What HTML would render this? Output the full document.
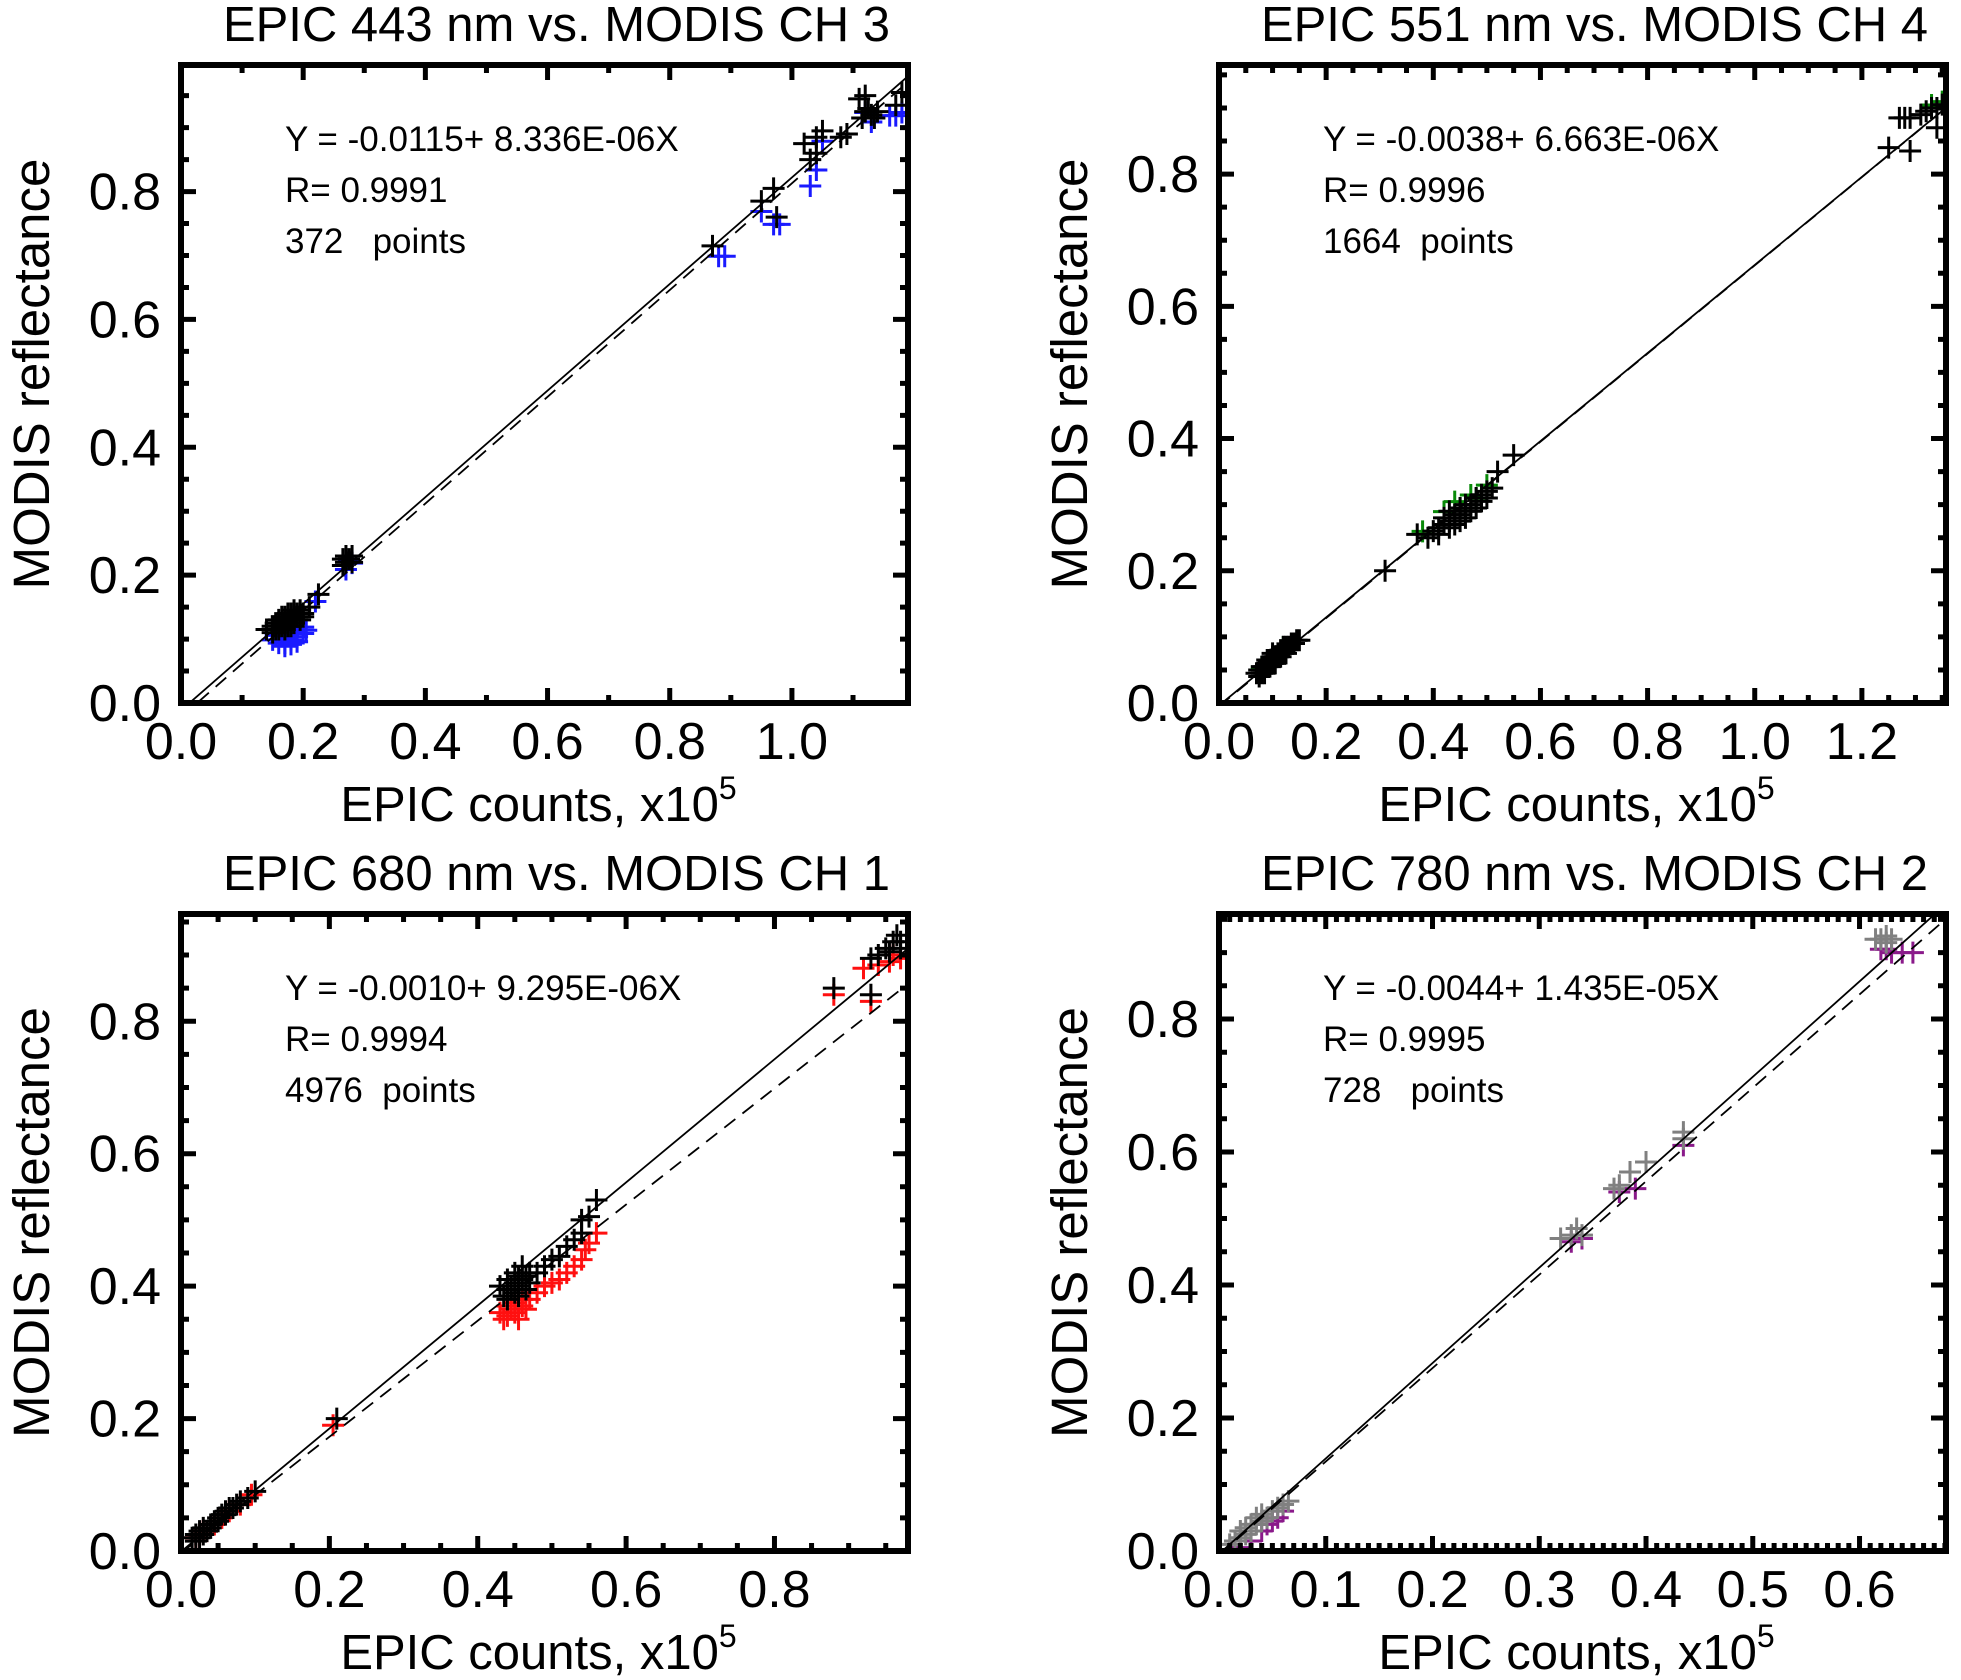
<!DOCTYPE html>
<html><head><meta charset="utf-8">
<style>
html,body{margin:0;padding:0;background:#fff;}
svg{display:block;font-family:"Liberation Sans",Arial,sans-serif;}
text{white-space:pre;}
</style></head>
<body>
<svg id="fig" width="1961" height="1680" viewBox="0 0 1961 1680" xmlns="http://www.w3.org/2000/svg"></svg>
<script>
// ---------- Panel 1 data: EPIC 443 vs MODIS CH3 ----------
const p1Blue = [[0.15,0.105],[0.16,0.10],[0.17,0.10],[0.18,0.105],[0.19,0.11],[0.20,0.115],[0.165,0.11],[0.175,0.112],[0.185,0.118],[0.2,0.125],[0.155,0.112],[0.17,0.095],[0.18,0.098],[0.19,0.102],[0.205,0.12],[0.27,0.215],[0.28,0.225],[0.275,0.23],[0.22,0.165],[0.88,0.705],[0.89,0.705],[0.97,0.755],[0.98,0.755],[1.03,0.815],[1.04,0.84],[1.05,0.885],[1.12,0.93],[1.16,0.925],[1.17,0.925],[1.18,0.93],[1.13,0.915],[0.95,0.775]];
const p1Black = [[0.14,0.115],[0.15,0.12],[0.155,0.125],[0.16,0.115],[0.16,0.13],[0.165,0.12],[0.17,0.125],[0.17,0.135],[0.175,0.12],[0.175,0.13],[0.18,0.13],[0.18,0.14],[0.185,0.125],[0.19,0.135],[0.19,0.14],[0.2,0.14],[0.155,0.115],[0.165,0.135],[0.185,0.145],[0.15,0.11],[0.16,0.12],[0.17,0.115],[0.175,0.14],[0.18,0.12],[0.185,0.135],[0.195,0.13],[0.195,0.145],[0.2,0.135],[0.165,0.125],[0.17,0.13],[0.21,0.15],[0.225,0.17],[0.265,0.215],[0.27,0.22],[0.275,0.225],[0.28,0.22],[0.27,0.23],[0.265,0.225],[0.28,0.23],[0.87,0.715],[0.95,0.785],[0.97,0.805],[0.975,0.76],[1.02,0.875],[1.03,0.85],[1.04,0.86],[1.04,0.885],[1.05,0.895],[1.08,0.885],[1.09,0.89],[1.11,0.945],[1.12,0.95],[1.12,0.925],[1.13,0.92],[1.115,0.915],[1.14,0.925],[1.125,0.93],[1.135,0.915],[1.17,0.935],[1.18,0.955]];
// ---------- Panel 2 data: EPIC 551 vs MODIS CH4 ----------
const p2Green = [[0.08,0.05],[0.1,0.065],[0.12,0.08],[0.38,0.255],[0.42,0.285],[0.45,0.29],[0.47,0.31],[0.5,0.325],[0.44,0.3],[0.48,0.305],[1.35,0.905],[1.33,0.9]];
const p2Black = [[0.07,0.045],[0.075,0.05],[0.08,0.045],[0.085,0.055],[0.09,0.055],[0.09,0.06],[0.095,0.065],[0.1,0.06],[0.1,0.07],[0.105,0.07],[0.11,0.07],[0.11,0.075],[0.115,0.08],[0.12,0.075],[0.125,0.085],[0.13,0.085],[0.135,0.09],[0.14,0.09],[0.145,0.095],[0.15,0.095],[0.075,0.04],[0.085,0.045],[0.095,0.055],[0.105,0.06],[0.115,0.07],[0.125,0.075],[0.08,0.055],[0.09,0.065],[0.1,0.075],[0.12,0.085],[0.31,0.2],[0.37,0.255],[0.39,0.25],[0.4,0.26],[0.41,0.265],[0.42,0.27],[0.42,0.28],[0.43,0.275],[0.44,0.285],[0.44,0.27],[0.45,0.285],[0.45,0.295],[0.46,0.29],[0.47,0.3],[0.48,0.31],[0.49,0.315],[0.5,0.32],[0.51,0.325],[0.43,0.29],[0.41,0.255],[0.43,0.265],[0.45,0.275],[0.46,0.28],[0.47,0.29],[0.48,0.295],[0.49,0.305],[0.5,0.31],[0.46,0.3],[0.52,0.35],[0.55,0.375],[1.25,0.84],[1.29,0.835],[1.27,0.885],[1.28,0.885],[1.29,0.885],[1.31,0.89],[1.32,0.895],[1.33,0.9],[1.34,0.9],[1.35,0.905],[1.34,0.87]];
// ---------- Panel 3 data: EPIC 680 vs MODIS CH1 ----------
const p3Red = [[0.02,0.02],[0.025,0.025],[0.03,0.03],[0.035,0.03],[0.045,0.04],[0.055,0.05],[0.065,0.06],[0.08,0.07],[0.095,0.085],[0.205,0.19],[0.43,0.36],[0.44,0.355],[0.44,0.37],[0.45,0.36],[0.45,0.375],[0.46,0.37],[0.46,0.38],[0.47,0.38],[0.48,0.39],[0.49,0.4],[0.5,0.405],[0.51,0.41],[0.52,0.42],[0.53,0.43],[0.54,0.44],[0.545,0.455],[0.55,0.465],[0.56,0.48],[0.435,0.35],[0.455,0.35],[0.445,0.365],[0.465,0.365],[0.88,0.84],[0.93,0.83],[0.92,0.88],[0.94,0.885],[0.955,0.89],[0.97,0.895],[0.96,0.9]];
const p3Black = [[0.015,0.02],[0.02,0.015],[0.02,0.025],[0.025,0.02],[0.025,0.03],[0.03,0.025],[0.03,0.035],[0.035,0.03],[0.04,0.035],[0.04,0.04],[0.045,0.045],[0.05,0.045],[0.05,0.05],[0.055,0.055],[0.06,0.055],[0.06,0.06],[0.065,0.065],[0.07,0.065],[0.075,0.07],[0.08,0.075],[0.09,0.08],[0.1,0.09],[0.21,0.2],[0.43,0.4],[0.44,0.38],[0.44,0.41],[0.445,0.395],[0.45,0.39],[0.45,0.405],[0.45,0.42],[0.455,0.4],[0.46,0.41],[0.46,0.43],[0.465,0.415],[0.47,0.405],[0.47,0.42],[0.44,0.395],[0.455,0.385],[0.455,0.415],[0.465,0.395],[0.435,0.385],[0.48,0.42],[0.49,0.43],[0.5,0.44],[0.51,0.445],[0.52,0.46],[0.53,0.47],[0.54,0.48],[0.54,0.5],[0.55,0.505],[0.56,0.53],[0.88,0.85],[0.93,0.84],[0.93,0.895],[0.94,0.9],[0.95,0.91],[0.96,0.92],[0.97,0.91],[0.965,0.93],[0.955,0.905],[0.97,0.92]];
// ---------- Panel 4 data: EPIC 780 vs MODIS CH2 ----------
const p4Purple = [[0.01,0.0],[0.02,0.005],[0.03,0.015],[0.04,0.03],[0.05,0.045],[0.06,0.06],[0.055,0.05],[0.045,0.04],[0.33,0.465],[0.34,0.47],[0.375,0.54],[0.39,0.545],[0.435,0.61],[0.62,0.905],[0.63,0.9],[0.64,0.9],[0.65,0.9],[0.625,0.905]];
const p4Gray = [[0.01,0.01],[0.015,0.015],[0.02,0.02],[0.02,0.03],[0.025,0.025],[0.025,0.035],[0.03,0.03],[0.03,0.04],[0.035,0.04],[0.035,0.05],[0.04,0.045],[0.04,0.055],[0.045,0.05],[0.05,0.06],[0.055,0.065],[0.06,0.07],[0.065,0.075],[0.32,0.47],[0.33,0.475],[0.335,0.485],[0.34,0.475],[0.37,0.545],[0.375,0.55],[0.385,0.57],[0.4,0.585],[0.435,0.63],[0.435,0.62],[0.615,0.92],[0.62,0.92],[0.625,0.915],[0.63,0.92],[0.625,0.925]];

// fit lines [intercept, slope] in axis units
const p1Solid=[-0.0115,0.8336], p1Dash=[-0.022,0.835];
const p2Solid=[-0.0038,0.6663], p2Dash=[-0.005,0.667];
const p3Solid=[-0.0010,0.9295], p3Dash=[-0.003,0.877];
const p4Solid=[-0.0044,1.435], p4Dash=[-0.006,1.405];

const p1Titles=["EPIC 443 nm vs. MODIS CH 3","Y = -0.0115+ 8.336E-06X","R= 0.9991","372   points"];
const p2Titles=["EPIC 551 nm vs. MODIS CH 4","Y = -0.0038+ 6.663E-06X","R= 0.9996","1664  points"];
const p3Titles=["EPIC 680 nm vs. MODIS CH 1","Y = -0.0010+ 9.295E-06X","R= 0.9994","4976  points"];
const p4Titles=["EPIC 780 nm vs. MODIS CH 2","Y = -0.0044+ 1.435E-05X","R= 0.9995","728   points"];

const p1XTicks=["0.0","0.2","0.4","0.6","0.8","1.0"];
const p2XTicks=["0.0","0.2","0.4","0.6","0.8","1.0","1.2"];
const p3XTicks=["0.0","0.2","0.4","0.6","0.8"];
const p4XTicks=["0.0","0.1","0.2","0.3","0.4","0.5","0.6"];
const yTickLabels=["0.0","0.2","0.4","0.6","0.8"];

const NS="http://www.w3.org/2000/svg";
const svg=document.getElementById('fig');
function mk(tag,attrs,parent){const e=document.createElementNS(NS,tag);for(const k in attrs)e.setAttribute(k,attrs[k]);(parent||svg).appendChild(e);return e;}

function panel(id,L,R,T,B,xmax,ymax,xMajor,xMinor,yMinor,xTicks,titles,series,solid,dash){
  const g=mk('g',{});
  
  
  const sx=v=>L+(R-L)*v/xmax, sy=v=>B-(B-T)*v/ymax;
  const cp=mk('clipPath',{id:id+'-clip'},g);
  mk('rect',{x:L,y:T,width:R-L,height:B-T},cp);
  const pg=mk('g',{'clip-path':'url(#'+id+'-clip)'},g);
  
  
  series.forEach(s=>{
    s.data.forEach(p=>{
      const x=sx(p[0])+s.dx, y=sy(p[1])+s.dy, h=11;
      const m=mk('path',{d:`M${x-h},${y}H${x+h}M${x},${y-h}V${y+h}`,stroke:s.color,'stroke-width':3,fill:'none'},pg);
      
      
    });
  });
  const x0=0,x1=xmax;
  const ls=mk('line',{x1:sx(x0),y1:sy(solid[0]+solid[1]*x0),x2:sx(x1),y2:sy(solid[0]+solid[1]*x1),stroke:'#000','stroke-width':1.8,'clip-path':'url(#'+id+'-clip)'},g);
  
  
  const ld=mk('line',{x1:sx(x0),y1:sy(dash[0]+dash[1]*x0),x2:sx(x1),y2:sy(dash[0]+dash[1]*x1),stroke:'#000','stroke-width':1.8,'stroke-dasharray':'14 9','clip-path':'url(#'+id+'-clip)'},g);
  
  
  let d='';
  for(let v=0;v<=xmax+1e-9;v+=xMinor){const isMaj=Math.abs(v/xMajor-Math.round(v/xMajor))<1e-6;const len=isMaj?15:8;const x=sx(v);d+=`M${x},${B}V${B-len}M${x},${T}V${T+len}`;}
  for(let v=0;v<=ymax+1e-9;v+=yMinor){const isMaj=Math.abs(v/0.2-Math.round(v/0.2))<1e-6;const len=isMaj?15:8;const y=sy(v);d+=`M${L},${y}H${L+len}M${R},${y}H${R-len}`;}
  const tk=mk('path',{d:d,stroke:'#000','stroke-width':5,fill:'none'},g);
  
  
  const fr=mk('rect',{x:L,y:T,width:R-L,height:B-T,fill:'none',stroke:'#000','stroke-width':6},g);
  
  
  xTicks.forEach((t,i)=>{const e=mk('text',{x:sx(i*xMajor),y:B+56,'font-size':52,'text-anchor':'middle'},g);e.textContent=t;
    
    });
  yTickLabels.forEach((t,i)=>{const e=mk('text',{x:L-20,y:sy(i*0.2)+18,'font-size':52,'text-anchor':'end'},g);e.textContent=t;
    
    });
  const tt=mk('text',{x:(L+R)/2+12,y:T-24,'font-size':49,'text-anchor':'middle'},g);tt.textContent=titles[0];
  
  
  const xl=mk('text',{x:(L+R)/2-6,y:B+118,'font-size':49,'text-anchor':'middle'},g);
  
  
  xl.appendChild(document.createTextNode('EPIC counts, x10'));
  const sup=mk('tspan',{'font-size':32,dy:-22},xl);sup.textContent='5';
  const yl=mk('text',{x:0,y:0,'font-size':51,'text-anchor':'middle',transform:`translate(${L-132},${(T+B)/2-10}) rotate(-90)`},g);yl.textContent='MODIS reflectance';
  
  
  for(let i=1;i<4;i++){const e=mk('text',{x:L+104,y:T+86+(i-1)*51,'font-size':35},g);e.textContent=titles[i];
    
    }
}
panel('panel-443nm',181,908,65,703,1.19,0.998,0.2,0.1,0.05,p1XTicks,p1Titles,
  [{name:'point-blue',data:p1Blue,color:'#1a1aff',dx:0,dy:4},{name:'point-black',data:p1Black,color:'#000',dx:0,dy:0}],p1Solid,p1Dash);
panel('panel-551nm',1219,1946,65,703,1.357,0.965,0.2,0.05,0.05,p2XTicks,p2Titles,
  [{name:'point-green',data:p2Green,color:'#0a8a0a',dx:0,dy:-3},{name:'point-black',data:p2Black,color:'#000',dx:0,dy:0}],p2Solid,p2Dash);
panel('panel-680nm',181,908,914,1551,0.98,0.962,0.2,0.05,0.05,p3XTicks,p3Titles,
  [{name:'point-red',data:p3Red,color:'#ff1010',dx:0,dy:0},{name:'point-black',data:p3Black,color:'#000',dx:0,dy:0}],p3Solid,p3Dash);
panel('panel-780nm',1219,1946,914,1551,0.681,0.958,0.1,0.01,0.05,p4XTicks,p4Titles,
  [{name:'point-purple',data:p4Purple,color:'#8a1a8a',dx:0,dy:0},{name:'point-gray',data:p4Gray,color:'#808080',dx:0,dy:0}],p4Solid,p4Dash);
</script>
</body></html>
